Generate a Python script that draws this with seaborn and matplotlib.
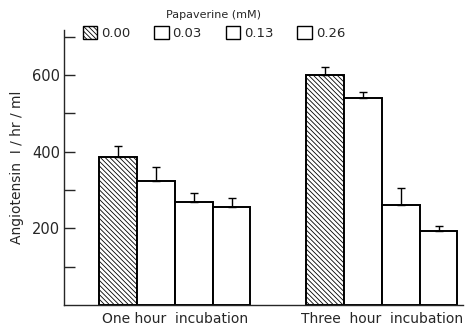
import matplotlib
matplotlib.use("Agg")
import matplotlib.pyplot as plt
import numpy as np
import pandas as pd
import seaborn as sns
from matplotlib.ticker import MultipleLocator
from matplotlib.patches import Patch

# values
groups = ["One hour  incubation", "Three  hour  incubation"]
doses = ["0.00", "0.03", "0.13", "0.26"]
one_hour = [387, 324, 269, 256]
one_hour_err = [29, 37, 24, 24]
three_hour = [599, 539, 261, 193]
three_hour_err = [23, 18, 45, 14]

df = pd.DataFrame({
    "group": [groups[0]] * 4 + [groups[1]] * 4,
    "dose": doses * 2,
    "value": one_hour + three_hour,
    "err": one_hour_err + three_hour_err,
})

sns.set_style("ticks")
plt.rcParams["font.family"] = ["DejaVu Sans"]
plt.rcParams["hatch.linewidth"] = 0.6
HATCH = "\\" * 7

fig = plt.figure(figsize=(4.65, 3.25), dpi=100)
ax = fig.add_axes([0.138, 0.062, 0.857, 0.846])

sns.barplot(data=df, x="group", y="value", hue="dose", hue_order=doses,
            order=groups, width=0.73, gap=0, errorbar=None,
            palette=["white"] * 4, edgecolor="black", linewidth=1.4,
            legend=False, ax=ax)

# patches come in hue order, each with both groups
bars = [p for p in ax.patches if p.get_height() > 0]
for i, p in enumerate(bars):
    hue_idx = i // 2
    grp_idx = i % 2
    if hue_idx == 0:
        p.set_hatch(HATCH)
    row = df[(df["group"] == groups[grp_idx]) & (df["dose"] == doses[hue_idx])].iloc[0]
    xc = p.get_x() + p.get_width() / 2
    ax.errorbar(xc, row["value"], yerr=[[0], [row["err"]]], fmt="none",
                ecolor="black", elinewidth=1.0, capsize=3, capthick=1.0,
                zorder=5)

ax.set_xlim(-0.535, 1.39)
ax.set_ylim(0, 718)
ax.set_yticks([200, 400, 600])
ax.set_yticks([100, 300, 500, 700], minor=True)
ax.tick_params(axis="y", which="both", direction="in", length=8, width=1.0,
               labelsize=10.5, pad=3)
ax.tick_params(axis="x", length=0, labelsize=10, pad=5)
sns.despine(ax=ax)
ax.spines["left"].set_linewidth(1.0)
ax.spines["bottom"].set_linewidth(1.0)
ax.set_xlabel("")
ax.set_ylabel("Angiotensin  I / hr / ml", fontsize=10, labelpad=6)

handles = [Patch(facecolor="white", edgecolor="black", linewidth=1.0,
                 hatch=HATCH if i == 0 else None) for i in range(4)]
leg = fig.legend(handles, doses, loc="upper center", bbox_to_anchor=(0.46, 0.995),
                 ncol=4, frameon=False, title="Papaverine (mM)",
                 title_fontsize=8, fontsize=9.5, handlelength=1.1,
                 handleheight=1.1, handletextpad=0.3, columnspacing=1.8,
                 borderaxespad=0.2)

fig.savefig("out.png", dpi=100)
